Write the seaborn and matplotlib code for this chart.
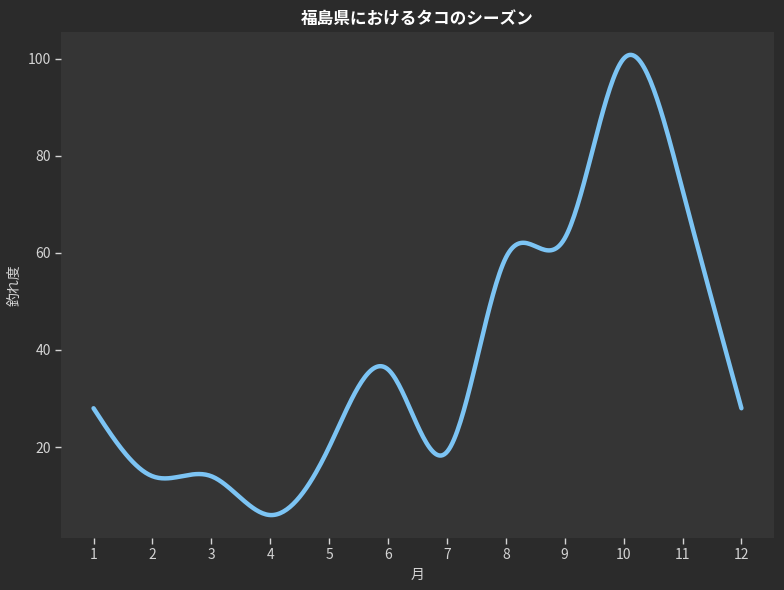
import numpy as np
import pandas as pd
import matplotlib
matplotlib.use("Agg")
import matplotlib.pyplot as plt
import seaborn as sns

months = [1, 2, 3, 4, 5, 6, 7, 8, 9, 10, 11, 12]
catch_rate = [28, 14, 14, 6, 20, 36, 19, 59, 63, 100, 73, 28]
title = "福島県におけるタコのシーズン"
xlabel = "月"
ylabel = "釣れ度"


def smooth_curve(xs, ys, n=400):
    """Natural cubic spline through the points (uniform spacing)."""
    x = np.asarray(xs, float)
    y = np.asarray(ys, float)
    k = len(x)
    h = x[1] - x[0]
    A = np.zeros((k, k))
    b = np.zeros(k)
    A[0, 0] = 1
    A[-1, -1] = 1
    for i in range(1, k - 1):
        A[i, i - 1:i + 2] = [1, 4, 1]
        b[i] = 6 * (y[i + 1] - 2 * y[i] + y[i - 1]) / h ** 2
    M = np.linalg.solve(A, b)
    xx = np.linspace(x[0], x[-1], n)
    idx = np.clip(((xx - x[0]) // h).astype(int), 0, k - 2)
    t = (xx - x[idx]) / h
    yy = (M[idx] * (1 - t) ** 3 / 6 + M[idx + 1] * t ** 3 / 6) * h ** 2 \
        + (y[idx] - M[idx] * h ** 2 / 6) * (1 - t) \
        + (y[idx + 1] - M[idx + 1] * h ** 2 / 6) * t
    return xx, yy


sns.set_theme(style="dark")
plt.rcParams["font.family"] = ["Noto Sans CJK JP", "DejaVu Sans"]

fig_bg = "#2b2b2b"
ax_bg = "#353535"
txt = "#d4d4d4"

fig, ax = plt.subplots(figsize=(7.84, 5.9), dpi=100)
fig.patch.set_facecolor(fig_bg)
ax.set_facecolor(ax_bg)

sx, sy = smooth_curve(months, catch_rate)
df = pd.DataFrame({"month": sx, "value": sy})
sns.lineplot(data=df, x="month", y="value", ax=ax, color="#7cc4f4", linewidth=3.2)

ax.set_xticks(months)
ax.set_xticklabels([str(m) for m in months])
ax.set_yticks([20, 40, 60, 80, 100])
ax.tick_params(colors=txt, labelsize=10, length=4, width=1, direction="out",
               bottom=True, left=True)
for s in ax.spines.values():
    s.set_visible(False)
ax.grid(False)

ax.set_title(title, color="white", fontsize=12, fontweight="bold", pad=6)
ax.set_xlabel(xlabel, color=txt, fontsize=10)
ax.set_ylabel(ylabel, color=txt, fontsize=10)

fig.subplots_adjust(left=0.078, right=0.987, top=0.946, bottom=0.088)
fig.savefig("out.png", dpi=100, facecolor=fig_bg)
